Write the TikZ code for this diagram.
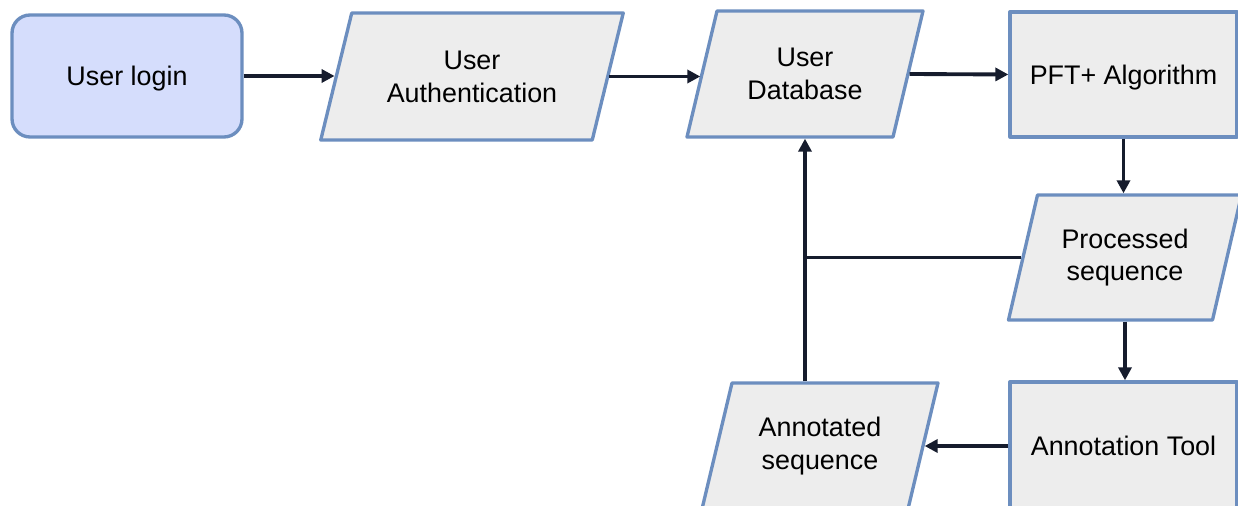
\documentclass[tikz,border=0pt]{standalone}
\usepackage{fontspec}
\setmainfont{Liberation Sans}
\usetikzlibrary{arrows.meta}
\definecolor{loginfill}{RGB}{213,221,252}
\definecolor{edgeblue}{RGB}{108,142,191}
\definecolor{boxgrey}{RGB}{237,237,237}
\definecolor{arrowc}{RGB}{22,28,45}
\tikzset{
  base/.style={line width=1.9pt, align=center, inner sep=0pt,
    font=\fontsize{15.3pt}{18.7pt}\selectfont, text=black},
  loginbox/.style={base, draw=edgeblue, fill=loginfill, rectangle, rounded corners=0.36cm,
    minimum width=4.6cm, minimum height=2.44cm, text depth=0pt},
  procbox/.style={base, draw=edgeblue, fill=boxgrey, rectangle, line join=round,
    minimum width=4.54cm, minimum height=2.5cm, text depth=0pt},
  iotext/.style={base, rectangle},
  ioshape/.style={draw=edgeblue, fill=boxgrey, line width=1.9pt, line join=round},
  arr/.style={draw=arrowc, line width=2.2pt, -{Triangle[length=0.26cm,width=0.26cm]}},
  link/.style={draw=arrowc, line width=2.2pt}
}
% name, cx, cy, body width, height, slant offset, text  (pixel units)
\newcommand\ionode[7]{%
  \draw[ioshape] ({#2-#4/2+#6/2},{#3-#5/2}) -- ({#2+#4/2+#6/2},{#3-#5/2})
    -- ({#2+#4/2-#6/2},{#3+#5/2}) -- ({#2-#4/2-#6/2},{#3+#5/2}) -- cycle;
  \node[iotext, minimum width={#4*0.02cm}, minimum height={#5*0.02cm}] (#1) at (#2,#3) {#7};}
\begin{document}
\begin{tikzpicture}[x=0.02cm,y=-0.02cm]
\useasboundingbox (0,0) rectangle (1238,506);
\clip (0,0) rectangle (1238,506);
\node[loginbox] (login) at (127,76) {User login};
\ionode{auth}{472}{76.5}{271.5}{127}{31}{User\\Authentication}
\ionode{db}{805}{74}{206}{126}{30}{User\\Database}
\node[procbox] (pft) at (1123.5,74.5) {PFT+ Algorithm};
\ionode{proc}{1125}{257.5}{204}{125}{29}{Processed\\sequence}
\node[procbox, minimum height=2.56cm] (tool) at (1123.5,446) {Annotation Tool};
\ionode{annseq}{820}{446}{206}{126}{30}{Annotated\\sequence}
\draw[arr] (login.east) -- (login.east -| auth.west);
\draw[arr] (auth.east) -- (auth.east -| db.west);
\draw[arr] (db.east) -- (pft.west);
\draw[arr] (pft.south) -- (pft.south |- proc.north);
\draw[arr] (proc.south) -- (proc.south |- tool.north);
\draw[arr] (tool.west) -- (tool.west -| annseq.east);
\draw[link] (proc.west) -- (proc.west -| db.south);
\draw[arr] (annseq.north -| db.south) -- (db.south);
\end{tikzpicture}
\end{document}
